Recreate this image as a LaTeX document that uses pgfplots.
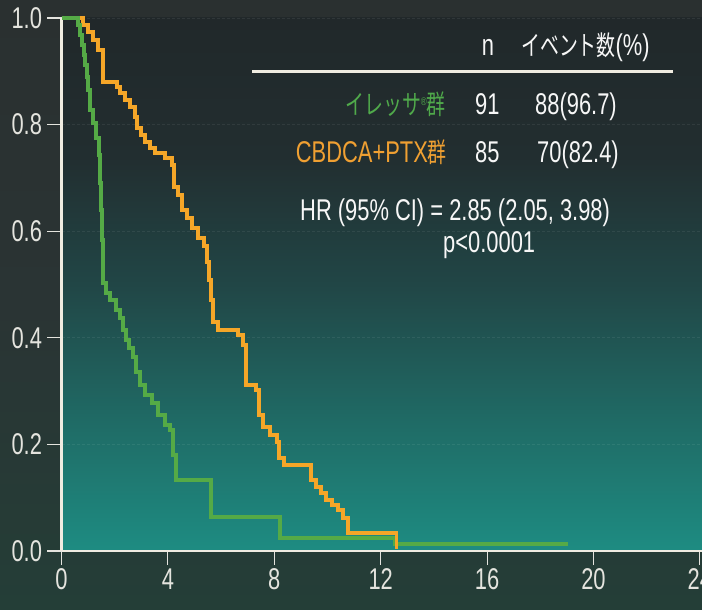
\documentclass[border=0pt]{standalone}
\usepackage{pgfplots}
\pgfplotsset{compat=1.18}
\usepackage{fontspec}
\setmainfont[FakeStretch=0.73]{Liberation Sans}
\newfontfamily\jp[FakeStretch=0.70]{Noto Sans CJK JP}
\definecolor{tealB}{RGB}{30,140,130}
\definecolor{tealM}{RGB}{31,110,104}
\definecolor{tealD}{RGB}{33,70,70}
\definecolor{darkT}{RGB}{34,46,48}
\definecolor{darkT2}{RGB}{33,40,42}
\definecolor{outTop}{RGB}{42,48,48}
\definecolor{outMid}{RGB}{42,52,52}
\definecolor{outBot}{RGB}{36,62,55}
\definecolor{axcol}{RGB}{240,236,225}
\definecolor{tickcol}{RGB}{228,228,222}
\definecolor{grn}{RGB}{85,170,70}
\definecolor{grntxt}{RGB}{80,170,75}
\definecolor{org}{RGB}{245,166,40}
\definecolor{orgtxt}{RGB}{240,160,50}
\pgfdeclareverticalshading{plotbg}{100bp}{color(0bp)=(tealB); color(25bp)=(tealB); color(36bp)=(tealM); color(50bp)=(tealD); color(62bp)=(darkT); color(75bp)=(darkT2); color(100bp)=(darkT2)}
\pgfdeclareverticalshading{outbg}{100bp}{color(0bp)=(outBot); color(25bp)=(outBot); color(50bp)=(outMid); color(75bp)=(outTop); color(100bp)=(outTop)}
\begin{document}
\begin{tikzpicture}
\path[use as bounding box] (0pt,0pt) rectangle (702pt,610pt);
\clip (0pt,0pt) rectangle (702pt,610pt);
\shade[shading=outbg] (0pt,0pt) rectangle (702pt,610pt);
\shade[shading=plotbg] (61.5pt,59pt) rectangle (702pt,592pt);
\begin{axis}[
  at={(61.5pt,59pt)}, anchor=south west,
  scale only axis, width=640.5pt, height=533pt,
  xmin=0, xmax=24.08, ymin=0, ymax=1,
  clip=false,
  axis lines=left,
  axis line style={-, color=axcol, line width=2.6pt},
  xtick={0,4,8,12,16,20,24},
  ytick={0,0.2,0.4,0.6,0.8,1.0},
  tick align=outside,
  major tick length=14pt,
  tick style={color=tickcol, line width=1.1pt},
  ymajorgrids,
  grid style={densely dashed, color=white, opacity=0.07, line width=0.8pt},
  /pgf/number format/assume math mode=true,
  yticklabel style={/pgf/number format/fixed, /pgf/number format/fixed zerofill, /pgf/number format/precision=1, xshift=-2pt},
  ticklabel style={font=\fontsize{30}{30}\selectfont, color=tickcol},
]
\addplot[const plot, color=org, line width=3.9pt] coordinates {
(0,1) (0.81,0.987) (1.00,0.974) (1.18,0.959) (1.37,0.940) (1.56,0.880)
(2.09,0.871) (2.20,0.859) (2.39,0.846) (2.58,0.833) (2.76,0.814) (2.84,0.794)
(2.99,0.780) (3.14,0.767) (3.33,0.756) (3.52,0.747) (3.89,0.737) (4.15,0.724)
(4.23,0.683) (4.38,0.668) (4.53,0.640) (4.72,0.625) (4.91,0.606) (5.13,0.587)
(5.36,0.572) (5.47,0.542) (5.55,0.508) (5.62,0.471) (5.70,0.430) (5.88,0.415)
(6.64,0.405) (6.82,0.386) (6.94,0.311) (7.31,0.302) (7.42,0.255) (7.58,0.233)
(7.84,0.218) (8.10,0.205) (8.18,0.174) (8.36,0.161) (9.38,0.133) (9.57,0.120)
(9.76,0.109) (9.94,0.096) (10.17,0.086) (10.39,0.077) (10.58,0.062) (10.77,0.034)
(12.61,0.034)};
\addplot[const plot, color=grn, line width=3.9pt] coordinates {
(0,1) (0.62,0.987) (0.70,0.968) (0.77,0.949) (0.85,0.931) (0.88,0.912)
(0.96,0.889) (1.00,0.865) (1.07,0.827) (1.18,0.803) (1.30,0.775) (1.41,0.743)
(1.45,0.690) (1.48,0.640) (1.52,0.583) (1.56,0.503) (1.67,0.484) (1.82,0.471)
(2.05,0.452) (2.20,0.437) (2.31,0.415) (2.42,0.396) (2.54,0.381) (2.69,0.364)
(2.80,0.336) (2.95,0.311) (3.14,0.293) (3.40,0.278) (3.63,0.255) (3.89,0.236)
(4.08,0.227) (4.19,0.180) (4.30,0.133) (5.62,0.064) (8.21,0.024) (12.54,0.013)
(19.04,0.013)};
\addplot[only marks, mark=|, mark size=9pt, color=org, line width=3pt] coordinates {(12.61,0.02)};
\end{axis}
\tikzset{txt/.style={inner sep=0pt, font=\fontsize{30}{32}\selectfont, color=white!94!gray}}
\node[txt, anchor=base] at (488pt,554pt) {n};
\node[txt, anchor=base west] at (521pt,554pt) {{\jp\fontsize{27}{30}\selectfont イベント数}(\%)};
\draw[color=axcol, line width=3pt] (252pt,538pt) -- (673pt,538pt);
\node[txt, anchor=base east, color=grntxt] at (446pt,495pt) {{\jp\fontsize{27}{30}\selectfont イレッサ}\raisebox{9pt}{\fontsize{11}{12}\selectfont\textregistered}{\jp\fontsize{27}{30}\selectfont 群}};
\node[txt, anchor=base west] at (475pt,495pt) {91};
\node[txt, anchor=base west] at (535pt,495pt) {88(96.7)};
\node[txt, anchor=base east, color=orgtxt] at (447pt,447pt) {CBDCA+PTX{\jp\fontsize{27}{30}\selectfont 群}};
\node[txt, anchor=base west] at (475pt,447pt) {85};
\node[txt, anchor=base west] at (537pt,447pt) {70(82.4)};
\node[txt, anchor=base west] at (300pt,389pt) {HR (95\% CI) = 2.85 (2.05, 3.98)};
\node[txt, anchor=base west] at (443pt,357pt) {p<0.0001};
\end{tikzpicture}
\end{document}
